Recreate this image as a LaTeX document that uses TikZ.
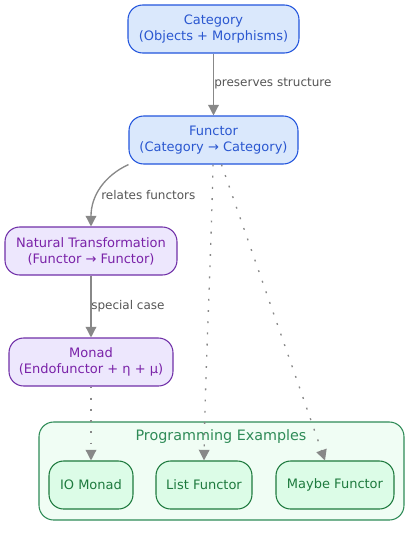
\documentclass[tikz,border=0pt]{standalone}
\usepackage{fontspec}
\setmainfont{DejaVu Sans}
\usetikzlibrary{arrows.meta}
\definecolor{bfill}{HTML}{DAE8FC}
\definecolor{bdraw}{HTML}{2255DD}
\definecolor{btext}{HTML}{2A57D0}
\definecolor{pfill}{HTML}{EDE7FD}
\definecolor{pdraw}{HTML}{7030A8}
\definecolor{ptext}{HTML}{7A22A8}
\definecolor{cfill}{HTML}{F0FDF4}
\definecolor{cdraw}{HTML}{2E8B57}
\definecolor{gfill}{HTML}{DCFCE7}
\definecolor{gdraw}{HTML}{1E7A3E}
\definecolor{gtext}{HTML}{1E7A3E}
\definecolor{edgec}{HTML}{888888}
\definecolor{labc}{HTML}{555555}
\tikzset{
  box/.style={rounded corners=11pt, line width=0.8pt, align=center, inner sep=0pt,
    font=\fontsize{9.75}{12}\selectfont},
  bluebox/.style={box, fill=bfill, draw=bdraw, text=btext},
  purplebox/.style={box, fill=pfill, draw=pdraw, text=ptext},
  greenbox/.style={box, fill=gfill, draw=gdraw, text=gtext},
  cluster/.style={rounded corners=11pt, line width=0.8pt, fill=cfill, draw=cdraw},
  link/.style={draw=edgec, line width=1pt, -{Triangle[length=8pt,width=8pt,fill=edgec]}},
  dotlink/.style={link, dash pattern=on 1.4pt off 7pt},
  elabel/.style={text=labc, font=\fontsize{9}{10}\selectfont, inner sep=0pt, anchor=west},
}
\begin{document}
\begin{tikzpicture}[x=0.75pt, y=-0.75pt]
\useasboundingbox (0,0) rectangle (420,536);
% cluster
\draw[cluster] (39,422) rectangle (404,520);
\node[text=cdraw, font=\fontsize{10.75}{12}\selectfont, inner sep=0pt] (ct) at (221,437) {Programming Examples};
% nodes
\node[bluebox, minimum width=171*0.75pt, minimum height=48*0.75pt] (C) at (213.5,29) {Category\\(Objects + Morphisms)};
\node[bluebox, minimum width=169*0.75pt, minimum height=48*0.75pt] (F) at (213.5,140) {Functor\\(Category → Category)};
\node[purplebox, minimum width=172*0.75pt, minimum height=48*0.75pt] (N) at (91,251) {Natural Transformation\\(Functor → Functor)};
\node[purplebox, minimum width=164*0.75pt, minimum height=48*0.75pt] (M) at (91,362) {Monad\\(Endofunctor + η + μ)};
\node[greenbox, minimum width=84*0.75pt, minimum height=48*0.75pt] (IO) at (91,485) {IO Monad};
\node[greenbox, minimum width=96*0.75pt, minimum height=48*0.75pt] (L) at (204,485) {List Functor};
\node[greenbox, minimum width=118*0.75pt, minimum height=48*0.75pt] (MB) at (335,485) {Maybe Functor};
% edges
\draw[link] (C) -- (F);
\node[elabel] (l1) at (214,84) {preserves structure};
\draw[link] (F.south west) .. controls (104,176) and (91,196) .. (N.north);
\node[elabel] (l2) at (101,195) {relates functors};
\draw[link] (N) -- (M);
\node[elabel] (l3) at (91,306) {special case};
\draw[dotlink] (M) -- (IO);
\draw[dotlink] ([xshift=-0.5*0.75pt]F.south) .. controls (211,260) and (205,380) .. (L.north);
\draw[dotlink] ([xshift=8*0.75pt]F.south) -- ([xshift=-10*0.75pt]MB.north);
\end{tikzpicture}
\end{document}
